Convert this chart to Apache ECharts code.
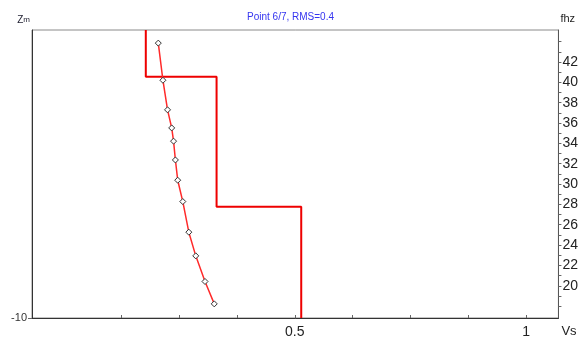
<!DOCTYPE html>
<html>
<head>
<meta charset="utf-8">
<script src="https://cdn.jsdelivr.net/npm/echarts@6/dist/echarts.min.js"></script>
<style>
html,body{margin:0;padding:0;background:#fff;}
#c{width:581px;height:339px;}
</style>
</head>
<body>
<div id="c"></div>
<script>
// ---- data ----
const titleText = 'Point 6/7, RMS=0.4';
const vsTicks = [0.125, 0.25, 0.375, 0.5, 0.625, 0.75, 0.875, 1];
const vsLabels = [0.5, 1];
const depthLabels = [-10];
const fTicks = [18,19,20,21,22,23,24,25,26,27,28,29,30,31,32,33,34,35,36,37,38,39,40,41,42,43,44];
const fLabels = [20,22,24,26,28,30,32,34,36,38,40,42];

// layered Vs profile (step model)
const profileVs = [0.178, 0.178, 0.331, 0.331, 0.514, 0.514];
const profileZ  = [0, -1.62, -1.62, -6.14, -6.14, -10];

// dispersion points (Vs vs frequency)
const dispVs = [0.205, 0.215, 0.225, 0.234, 0.238, 0.242, 0.247, 0.258, 0.271, 0.286, 0.306, 0.326];
const dispF  = [43.86, 40.21, 37.30, 35.52, 34.22, 32.37, 30.38, 28.28, 25.27, 22.94, 20.42, 18.22];

const font = 'Liberation Sans, Arial, sans-serif';
const chart = echarts.init(document.getElementById('c'), null, {renderer: 'canvas'});
chart.setOption({
  animation: false,
  backgroundColor: '#fff',
  title: {
    text: titleText, left: 'center', top: 7,
    textStyle: {fontFamily: font, fontSize: 10, fontWeight: 'normal', color: '#3535f0'}
  },
  grid: {left: 32, right: 18, top: 30, bottom: 17, show: true, borderColor: '#8a8a8a', borderWidth: 1},
  xAxis: {
    type: 'value', min: -0.068, max: 1.07,
    name: 'Vs', nameLocation: 'end', nameGap: 3,
    nameTextStyle: {fontFamily: font, fontSize: 13, color: '#222', verticalAlign: 'top', padding: [7, 0, 0, 0]},
    axisLine: {show: true, onZero: false, lineStyle: {color: '#333', width: 1}},
    axisTick: {show: true, inside: true, length: 3, customValues: vsTicks, lineStyle: {color: '#666'}},
    axisLabel: {customValues: vsLabels, fontFamily: font, fontSize: 14, color: '#222', margin: 7},
    splitLine: {show: false}
  },
  yAxis: [
    {
      type: 'value', min: -10, max: 0, position: 'left',
      name: '{z|Z}{m|m}', nameLocation: 'end', nameGap: 5,
      nameTextStyle: {align: 'right', padding: [0, 2, 0, 0],
        rich: {z: {fontFamily: font, fontSize: 10, color: '#223'}, m: {fontFamily: font, fontSize: 8, color: '#223'}}},
      axisLine: {show: true, onZero: false, lineStyle: {color: '#333', width: 1}},
      axisTick: {show: true, length: 4, customValues: depthLabels, lineStyle: {color: '#666'}},
      axisLabel: {customValues: depthLabels, fontFamily: font, fontSize: 11, color: '#333', margin: 5},
      splitLine: {show: false}
    },
    {
      type: 'value', min: 16.83, max: 45.15, position: 'right',
      name: 'fhz', nameLocation: 'end', nameGap: 6,
      nameTextStyle: {fontFamily: font, fontSize: 11, color: '#222', align: 'left', padding: [0, 0, 0, 2]},
      axisLine: {show: true, onZero: false, lineStyle: {color: '#555', width: 1}},
      axisTick: {show: true, length: 3, customValues: fTicks, lineStyle: {color: '#666'}},
      axisLabel: {customValues: fLabels, fontFamily: font, fontSize: 14, color: '#222', margin: 4},
      splitLine: {show: false}
    }
  ],
  series: [
    {
      type: 'line', xAxisIndex: 0, yAxisIndex: 0,
      data: profileVs.map((v, i) => [v, profileZ[i]]),
      symbol: 'none', lineStyle: {color: '#ee0000', width: 2}, z: 2
    },
    {
      type: 'line', xAxisIndex: 0, yAxisIndex: 1,
      data: dispVs.map((v, i) => [v, dispF[i]]),
      symbol: 'diamond', symbolSize: 6, showSymbol: true,
      itemStyle: {color: '#fff', borderColor: '#333', borderWidth: 1},
      lineStyle: {color: '#ff2a2a', width: 1.5}, z: 3
    }
  ]
});
</script>
</body>
</html>
